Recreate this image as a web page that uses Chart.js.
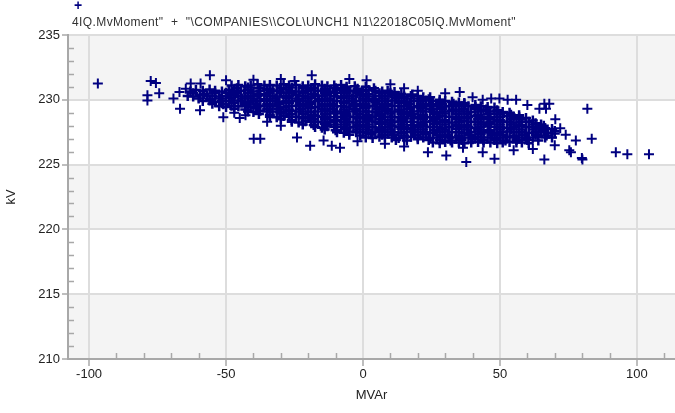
<!DOCTYPE html>
<html>
<head>
<meta charset="utf-8">
<script src="https://cdn.jsdelivr.net/npm/chart.js@4.4.1/dist/chart.umd.min.js"></script>
<style>
  html, body { margin: 0; padding: 0; background: #fff; overflow: hidden; }
  #wrap { position: relative; width: 675px; height: 413px; }
  #scatter { display: block; }
  #legendMark { position: absolute; left: 74px; top: -3px; font: bold 14px "Liberation Sans", Arial, sans-serif; color: #000080; }
  #legendText { position: absolute; left: 72px; top: 15px; font: 12px "Liberation Sans", Arial, sans-serif; color: #333; white-space: pre; letter-spacing: 0.4px; }
</style>
</head>
<body>
<div id="wrap">
  <canvas id="scatter" width="675" height="413"></canvas>
  <div id="legendMark">+</div>
  <div id="legendText">4IQ.MvMoment"  +  "\COMPANIES\\COL\UNCH1 N1\22018C05IQ.MvMoment"</div>
</div>
<script>
// axis ticks
const kvTicks = [210, 215, 220, 225, 230, 235];
const mvarTicks = [-100, -50, 0, 50, 100];

// dense cloud (MVAr, kV)
const cloudTop = [
  [-48,231.1],[-45.5,231.15],[-43,231.05],[-41,231.1],[-38.5,231.2],[-36,231.1],[-34,231.15],[-31.5,231.1],[-29,231.2],[-27,231.1],[-24.5,231.15],[-22,231.05],[-20,231.1],[-17.5,231.2],[-15,231.1],[-13,231.05],[-10.5,231.1],[-8,231.15],[-6,231.0],[-3,231.05],[1,231.0],[4,230.9],
  [-46,230.9],[-42,230.95],[-38,230.9],[-34,230.85],[-30,230.9],[-26,230.95],[-22,230.9],[-18,230.9],[-14,230.85],[-10,230.9],[-6,230.85],[-2,230.85],
  [-63,230.65],[-61,230.75],[-58.5,230.7],[-56,230.8],[-54,230.7],[-51.5,230.65],[-49,230.75],[-47,230.7],[-44.5,230.7],[-42,230.75],[-40,230.65],[-37.5,230.7],[-35,230.75],[-33,230.7],[-30.5,230.7],[-28,230.8],[-26,230.7],[-23.5,230.65],[-21,230.7],[-19,230.75],[-16.5,230.7],[-14,230.7],[-12,230.65],[-9.5,230.75],[-7,230.7],[-5,230.7],[-2.5,230.65],[0,230.7],[2,230.75],[4.5,230.7],[7,230.65],[9,230.7],[11.5,230.6],
  [-62,230.5],[-58,230.45],[-54,230.5],[-50,230.55],[-46,230.5],[-42,230.5],[-38,230.45],[-34,230.5],[-30,230.55],[-26,230.5],[-22,230.5],[-18,230.45],[-14,230.5],[-10,230.55],[-6,230.5],[-2,230.5],[2,230.45],[6,230.5],[10,230.5],[14,230.45],[18,230.4],
  [-64,230.3],[-62,230.25],[-59.5,230.35],[-57,230.3],[-55,230.3],[-52.5,230.25],[-50,230.3],[-48,230.35],[-45.5,230.3],[-43,230.25],[-41,230.3],[-38.5,230.3],[-36,230.35],[-34,230.3],[-31.5,230.25],[-29,230.3],[-27,230.3],[-24.5,230.35],[-22,230.3],[-20,230.25],[-17.5,230.3],[-15,230.3],[-13,230.35],[-10.5,230.3],[-8,230.25],[-6,230.3],[-3.5,230.3],[-1,230.35],[1,230.3],[3.5,230.25],[6,230.3],[8,230.3],[10.5,230.35],[13,230.3],[15,230.25],[17.5,230.3],[20,230.3],[22,230.2],[24.5,230.2],
  [-60,230.1],[-56,230.05],[-52,230.1],[-48,230.15],[-44,230.1],[-40,230.1],[-36,230.05],[-32,230.1],[-28,230.15],[-24,230.1],[-20,230.1],[-16,230.05],[-12,230.1],[-8,230.15],[-4,230.1],[0,230.1],[4,230.05],[8,230.1],[12,230.15],[16,230.1],[20,230.1],[24,230.05],[28,230.0],
  [-58.5,229.9],[-56,229.95],[-54,229.85],[-51.5,229.9],[-49,229.9],[-47,229.95],[-44.5,229.9],[-42,229.85],[-40,229.9],[-37.5,229.9],[-35,229.95],[-33,229.9],[-30.5,229.85],[-28,229.9],[-26,229.9],[-23.5,229.95],[-21,229.9],[-19,229.85],[-16.5,229.9],[-14,229.9],[-12,229.95],[-9.5,229.9],[-7,229.85],[-5,229.9],[-2.5,229.9],[0,229.95],[2,229.9],[4.5,229.85],[7,229.9],[9,229.9],[11.5,229.95],[14,229.9],[16,229.85],[18.5,229.9],[21,229.9],[23,229.95],[25.5,229.9],[28,229.85],[30,229.9],[32.5,229.85],[35,229.8],[37,229.75]
];
const cloudMiddle = [
  [-55,229.7],[-51,229.65],[-47,229.75],[-43,229.7],[-39,229.7],[-35,229.65],[-31,229.7],[-27,229.75],[-23,229.7],[-19,229.7],[-15,229.65],[-11,229.7],[-7,229.75],[-3,229.7],[1,229.7],[5,229.65],[9,229.7],[13,229.75],[17,229.7],[21,229.7],[25,229.65],[29,229.7],[33,229.7],[37,229.65],[41,229.6],
  [-52.5,229.5],[-50,229.45],[-48,229.55],[-45.5,229.5],[-43,229.5],[-41,229.45],[-38.5,229.5],[-36,229.55],[-34,229.5],[-31.5,229.5],[-29,229.45],[-27,229.5],[-24.5,229.55],[-22,229.5],[-20,229.5],[-17.5,229.45],[-15,229.5],[-13,229.55],[-10.5,229.5],[-8,229.5],[-6,229.45],[-3.5,229.5],[-1,229.55],[1,229.5],[3.5,229.5],[6,229.45],[8,229.5],[10.5,229.55],[13,229.5],[15,229.5],[17.5,229.45],[20,229.5],[22,229.55],[24.5,229.5],[27,229.5],[29,229.45],[31.5,229.5],[34,229.55],[36,229.5],[38.5,229.5],[41,229.45],[43,229.5],[45.5,229.45],[48,229.4],
  [-47,229.3],[-43,229.25],[-39,229.35],[-35,229.3],[-31,229.3],[-27,229.25],[-23,229.3],[-19,229.35],[-15,229.3],[-11,229.3],[-7,229.25],[-3,229.3],[1,229.35],[5,229.3],[9,229.3],[13,229.25],[17,229.3],[21,229.35],[25,229.3],[29,229.3],[33,229.25],[37,229.3],[41,229.3],[45,229.25],[49,229.2],
  [-42,229.1],[-40,229.05],[-37.5,229.15],[-35,229.1],[-33,229.1],[-30.5,229.05],[-28,229.1],[-26,229.15],[-23.5,229.1],[-21,229.1],[-19,229.05],[-16.5,229.1],[-14,229.15],[-12,229.1],[-9.5,229.1],[-7,229.05],[-5,229.1],[-2.5,229.15],[0,229.1],[2,229.1],[4.5,229.05],[7,229.1],[9,229.15],[11.5,229.1],[14,229.1],[16,229.05],[18.5,229.1],[21,229.15],[23,229.1],[25.5,229.1],[28,229.05],[30,229.1],[32.5,229.15],[35,229.1],[37,229.1],[39.5,229.05],[42,229.1],[44,229.15],[46.5,229.1],[49,229.1],[51,229.05],[53.5,229.0],
  [-38,228.9],[-34,228.85],[-30,228.95],[-26,228.9],[-22,228.9],[-18,228.85],[-14,228.9],[-10,228.95],[-6,228.9],[-2,228.9],[2,228.85],[6,228.9],[10,228.95],[14,228.9],[18,228.9],[22,228.85],[26,228.9],[30,228.95],[34,228.9],[38,228.9],[42,228.85],[46,228.9],[50,228.9],[54,228.85],[57,228.8],
  [-34,228.7],[-31.5,228.65],[-29,228.75],[-27,228.7],[-24.5,228.7],[-22,228.65],[-20,228.7],[-17.5,228.75],[-15,228.7],[-13,228.7],[-10.5,228.65],[-8,228.7],[-6,228.75],[-3.5,228.7],[-1,228.7],[1,228.65],[3.5,228.7],[6,228.75],[8,228.7],[10.5,228.7],[13,228.65],[15,228.7],[17.5,228.75],[20,228.7],[22,228.7],[24.5,228.65],[27,228.7],[29,228.75],[31.5,228.7],[34,228.7],[36,228.65],[38.5,228.7],[41,228.75],[43,228.7],[45.5,228.7],[48,228.65],[50,228.7],[52.5,228.75],[55,228.7],[57,228.65],[59.5,228.6],
  [-30,228.5],[-26,228.45],[-22,228.55],[-18,228.5],[-14,228.5],[-10,228.45],[-6,228.5],[-2,228.55],[2,228.5],[6,228.5],[10,228.45],[14,228.5],[18,228.55],[22,228.5],[26,228.5],[30,228.45],[34,228.5],[38,228.55],[42,228.5],[46,228.5],[50,228.45],[54,228.5],[58,228.5],[62,228.4],
  [-26,228.3],[-23.5,228.25],[-21,228.35],[-19,228.3],[-16.5,228.3],[-14,228.25],[-12,228.3],[-9.5,228.35],[-7,228.3],[-5,228.3],[-2.5,228.25],[0,228.3],[2,228.35],[4.5,228.3],[7,228.3],[9,228.25],[11.5,228.3],[14,228.35],[16,228.3],[18.5,228.3],[21,228.25],[23,228.3],[25.5,228.35],[28,228.3],[30,228.3],[32.5,228.25],[35,228.3],[37,228.35],[39.5,228.3],[42,228.3],[44,228.25],[46.5,228.3],[49,228.35],[51,228.3],[53.5,228.3],[56,228.25],[58,228.3],[60.5,228.3],[63,228.2],[65,228.1]
];
const cloudBottom = [
  [-22,228.1],[-18,228.05],[-14,228.15],[-10,228.1],[-6,228.1],[-2,228.05],[2,228.1],[6,228.15],[10,228.1],[14,228.1],[18,228.05],[22,228.1],[26,228.15],[30,228.1],[34,228.1],[38,228.05],[42,228.1],[46,228.15],[50,228.1],[54,228.1],[58,228.05],[62,228.1],[66,228.0],
  [-17.5,227.9],[-15,227.85],[-13,227.95],[-10.5,227.9],[-8,227.9],[-6,227.85],[-3.5,227.9],[-1,227.95],[1,227.9],[3.5,227.9],[6,227.85],[8,227.9],[10.5,227.95],[13,227.9],[15,227.9],[17.5,227.85],[20,227.9],[22,227.95],[24.5,227.9],[27,227.9],[29,227.85],[31.5,227.9],[34,227.95],[36,227.9],[38.5,227.9],[41,227.85],[43,227.9],[45.5,227.95],[48,227.9],[50,227.9],[52.5,227.85],[55,227.9],[57,227.95],[59.5,227.9],[62,227.9],[64,227.85],[66.5,227.8],[69,227.75],
  [-14,227.7],[-10,227.65],[-6,227.75],[-2,227.7],[2,227.7],[6,227.65],[10,227.7],[14,227.75],[18,227.7],[22,227.7],[26,227.65],[30,227.7],[34,227.75],[38,227.7],[42,227.7],[46,227.65],[50,227.7],[54,227.75],[58,227.7],[62,227.7],[66,227.65],[70,227.6],
  [-9.5,227.5],[-7,227.45],[-5,227.55],[-2.5,227.5],[0,227.5],[2,227.45],[4.5,227.5],[7,227.55],[9,227.5],[11.5,227.5],[14,227.45],[16,227.5],[18.5,227.55],[21,227.5],[23,227.5],[25.5,227.45],[28,227.5],[30,227.55],[32.5,227.5],[35,227.5],[37,227.45],[39.5,227.5],[42,227.55],[44,227.5],[46.5,227.5],[49,227.45],[51,227.5],[53.5,227.55],[56,227.5],[58,227.5],[60.5,227.45],[63,227.5],[65,227.5],[67.5,227.45],[70,227.4],
  [-5,227.3],[-1,227.25],[3,227.35],[7,227.3],[11,227.3],[15,227.25],[19,227.3],[23,227.35],[27,227.3],[31,227.3],[35,227.25],[39,227.3],[43,227.35],[47,227.3],[51,227.3],[55,227.25],[59,227.3],[63,227.3],[67,227.25],
  [1,227.1],[3.5,227.05],[6,227.15],[8,227.1],[10.5,227.1],[13,227.05],[15,227.1],[17.5,227.15],[20,227.1],[22,227.1],[24.5,227.05],[27,227.1],[29,227.15],[31.5,227.1],[34,227.1],[36,227.05],[38.5,227.1],[41,227.15],[43,227.1],[45.5,227.1],[48,227.05],[50,227.1],[52.5,227.15],[55,227.1],[57,227.1],[59.5,227.05],[62,227.1],[64,227.15],[66.5,227.1],[69,227.1],
  [12,226.9],[16,226.85],[20,226.95],[24,226.9],[28,226.9],[32,226.85],[36,226.9],[40,226.95],[44,226.9],[48,226.9],[52,226.85],[56,226.9],[60,226.9],[64,226.85],
  [25.5,226.7],[28,226.65],[30,226.75],[32.5,226.7],[35,226.7],[37,226.65],[39.5,226.7],[42,226.75],[44,226.7],[46.5,226.7],[49,226.65],[51,226.7],[53.5,226.75],[56,226.7],[58,226.7],[60.5,226.65]
];
// loose points round the cloud
const strayPoints = [
  [-96.8,231.25],[-77.5,231.45],[-75.6,231.3],[-78.7,230.35],[-78.7,229.95],[-74.4,230.5],[-69.2,230.1],[-66.8,229.3],
  [-59.5,229.2],[-55.9,231.9],[-51,228.65],[-39.9,227.0],[-37.5,227.0],[-42.9,228.8],[-64.7,230.85],[-62.9,231.25],
  [-59.3,231.25],[-67,230.6],[-47,229.0],[-45,228.6],[-35,228.3],[-30,228.0],[-24.1,227.1],[-19.3,226.45],
  [-14.4,226.85],[-11.4,226.45],[-8.4,226.3],[-18.7,231.9],[1.3,231.5],[-40,231.55],[-30,231.6],[-5,231.6],
  [10,231.2],[-50,231.5],[-25,231.45],[15,230.9],[20,230.7],[30,230.5],[35.3,230.6],[43.7,230.0],
  [46.8,230.1],[49.8,230.1],[52.8,230.0],[55.9,230.0],[40,230.2],[60,229.6],[66.2,229.7],[68,229.7],
  [64.4,229.3],[66.8,229.3],[81.9,229.3],[70.2,228.5],[72,227.8],[74,227.3],[83.5,227.0],[77.7,226.85],
  [75.3,226.1],[75.9,225.95],[79.9,225.5],[80.1,225.4],[66.2,225.4],[70,226.5],[62,226.2],[55,226.1],
  [48,225.45],[43.7,225.95],[37.7,225.2],[36.5,226.3],[30.4,225.7],[23.7,225.95],[15,226.4],[8,226.6],
  [-2,226.8],[92.3,225.95],[96.5,225.8],[104.4,225.8]
];

const toXY = (pairs) => pairs.map(([x, y]) => ({ x: x, y: y }));
const cloudPoints = toXY([...cloudTop, ...cloudMiddle, ...cloudBottom]);
const strayXY = toXY(strayPoints);

// alternating grey / white bands between the kV gridlines
const bandPlugin = {
  id: "bands",
  beforeDraw(chart) {
    const { ctx, chartArea: a, scales } = chart;
    ctx.save();
    for (let i = 0; i < kvTicks.length - 1; i++) {
      const top = scales.y.getPixelForValue(kvTicks[i + 1]);
      const bottom = scales.y.getPixelForValue(kvTicks[i]);
      ctx.fillStyle = i % 2 === 0 ? "#f4f4f4" : "#ffffff";
      ctx.fillRect(a.left, top, a.right - a.left, bottom - top);
    }
    ctx.restore();
  },
};

// small inner ticks between the labelled ones
const minorTickPlugin = {
  id: "minorTicks",
  afterDatasetsDraw(chart) {
    const { ctx, chartArea: a, scales } = chart;
    ctx.save();
    ctx.strokeStyle = "#a8a8a8";
    ctx.lineWidth = 1.5;
    ctx.beginPath();
    for (let v = -100; v <= scales.x.max; v += 10) {
      if (v % 50 === 0) continue;
      const px = Math.round(scales.x.getPixelForValue(v)) + 0.5;
      ctx.moveTo(px, a.bottom);
      ctx.lineTo(px, a.bottom - 6);
    }
    for (let v = 211; v < 235; v += 1) {
      if (v % 5 === 0) continue;
      const py = Math.round(scales.y.getPixelForValue(v)) + 0.5;
      ctx.moveTo(a.left, py);
      ctx.lineTo(a.left + 6, py);
    }
    ctx.stroke();
    ctx.restore();
  },
};

const labelFont = { family: "'Liberation Sans', Arial, sans-serif", size: 13 };
const markStyle = {
  pointStyle: "cross",
  pointRadius: 5,
  pointHoverRadius: 5,
  borderColor: "#000080",
  backgroundColor: "#000080",
};

new Chart(document.getElementById("scatter"), {
  type: "scatter",
  data: {
    datasets: [
      { label: "MvMoment", data: cloudPoints, borderWidth: 2.5, ...markStyle },
      { label: "MvMoment", data: strayXY, borderWidth: 2, ...markStyle },
    ],
  },
  options: {
    responsive: false,
    animation: false,
    events: [],
    layout: { autoPadding: false, padding: { top: 35, right: 0, bottom: 0, left: 0 } },
    plugins: {
      legend: { display: false },
      tooltip: { enabled: false },
    },
    scales: {
      x: {
        type: "linear",
        min: -107.7,
        max: 113.9,
        afterBuildTicks: (scale) => {
          scale.ticks = mvarTicks.map((v) => ({ value: v }));
        },
        afterFit: (scale) => {
          scale.height = 54;
        },
        grid: { color: "#dddddd", lineWidth: 2, tickLength: 7, tickColor: "#a8a8a8", tickWidth: 1.5 },
        border: { color: "#a8a8a8", width: 2 },
        ticks: { font: labelFont, color: "#222", padding: 1, maxRotation: 0 },
        title: { display: true, text: "MVAr", font: labelFont, color: "#222", padding: { top: 0, bottom: 10 } },
      },
      y: {
        type: "linear",
        min: 210,
        max: 235,
        afterBuildTicks: (scale) => {
          scale.ticks = kvTicks.map((v) => ({ value: v }));
        },
        afterFit: (scale) => {
          scale.width = 68;
        },
        grid: { color: "#dddddd", lineWidth: 2, tickLength: 6, tickColor: "#a8a8a8", tickWidth: 1.5 },
        border: { color: "#a8a8a8", width: 2 },
        ticks: { font: labelFont, color: "#222", padding: 2 },
        title: { display: true, text: "kV", font: labelFont, color: "#222", padding: { top: 4, bottom: 0 } },
      },
    },
  },
  plugins: [bandPlugin, minorTickPlugin],
});
</script>
</body>
</html>
